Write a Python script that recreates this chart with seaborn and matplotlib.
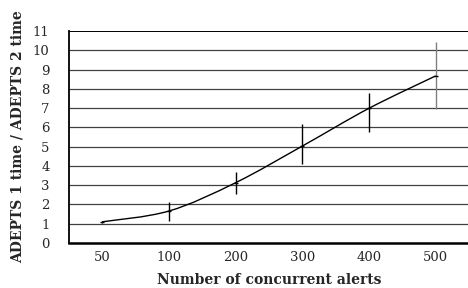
import numpy as np
import pandas as pd
import seaborn as sns
import matplotlib
matplotlib.use("Agg")
import matplotlib.pyplot as plt
from matplotlib.path import Path
from matplotlib.patches import PathPatch

categories = ["50", "100", "200", "300", "400", "500"]
ratio = [1.10, 1.66, 3.13, 5.03, 6.99, 8.67]
err_low = [1.05, 1.15, 2.53, 4.10, 5.78, 6.93]
err_high = [1.15, 2.15, 3.70, 6.16, 7.77, 10.41]
y_ticks = list(range(0, 12))

sns.set_theme(style="white")
plt.rcParams['font.family'] = ['DejaVu Serif']

df = pd.DataFrame({"alerts": categories, "ratio": ratio})

fig = plt.figure(figsize=(4.68, 2.88), dpi=100)
ax = fig.add_axes([69/468, 45/288, 400/468, 212/288])

sns.scatterplot(data=df, x="alerts", y="ratio", marker="_", s=12, color="black",
                linewidth=1, ax=ax, zorder=4)

# smoothed line (Bezier rendering through the data points)
xs = np.arange(len(ratio), dtype=float)
ys = np.array(ratio, dtype=float)
pts = np.column_stack([xs, ys])
verts = [tuple(pts[0])]
codes = [Path.MOVETO]
n = len(pts)
for i in range(n - 1):
    p0 = pts[max(i - 1, 0)]
    p1 = pts[i]
    p2 = pts[i + 1]
    p3 = pts[min(i + 2, n - 1)]
    c1 = p1 + (p2 - p0) / 6.0
    c2 = p2 - (p3 - p1) / 6.0
    verts += [tuple(c1), tuple(c2), tuple(p2)]
    codes += [Path.CURVE4] * 3
ax.add_patch(PathPatch(Path(verts, codes), facecolor="none", edgecolor="black",
                       lw=1.0, zorder=3))

for i in range(n):
    col = "#808080" if i == n - 1 else "black"
    ax.vlines(i, err_low[i], err_high[i], color=col, lw=1.0, zorder=3)

ax.set_xlim(-0.5, len(categories) - 0.5)
ax.set_ylim(0, 11)
ax.set_yticks(y_ticks)
ax.set_yticklabels([str(t) for t in y_ticks], fontsize=9.5)
ax.set_xticks(range(len(categories)))
ax.set_xticklabels(categories, fontsize=9.5)
ax.tick_params(axis="x", length=0, pad=6)
ax.tick_params(axis="y", length=0, pad=14)
ax.set_xticks(np.arange(0.5, len(categories) - 0.5, 1.0), minor=True)
ax.tick_params(axis="x", which="minor", direction="in", length=4, width=1, color="black")

for t in y_ticks[1:-1]:
    ax.axhline(t, color="#404040", lw=0.9, zorder=1)
ax.axhline(11, color="black", lw=1.4, zorder=1)

for s in ["top", "right"]:
    ax.spines[s].set_visible(False)
ax.spines["left"].set_color("black")
ax.spines["left"].set_linewidth(1.3)
ax.spines["bottom"].set_color("black")
ax.spines["bottom"].set_linewidth(1.8)

ax.set_xlabel("Number of concurrent alerts", fontsize=10, fontweight="bold", labelpad=6)
ax.set_ylabel("ADEPTS 1 time / ADEPTS 2 time", fontsize=10, fontweight="bold", labelpad=6)

fig.savefig("out.png", dpi=100)
